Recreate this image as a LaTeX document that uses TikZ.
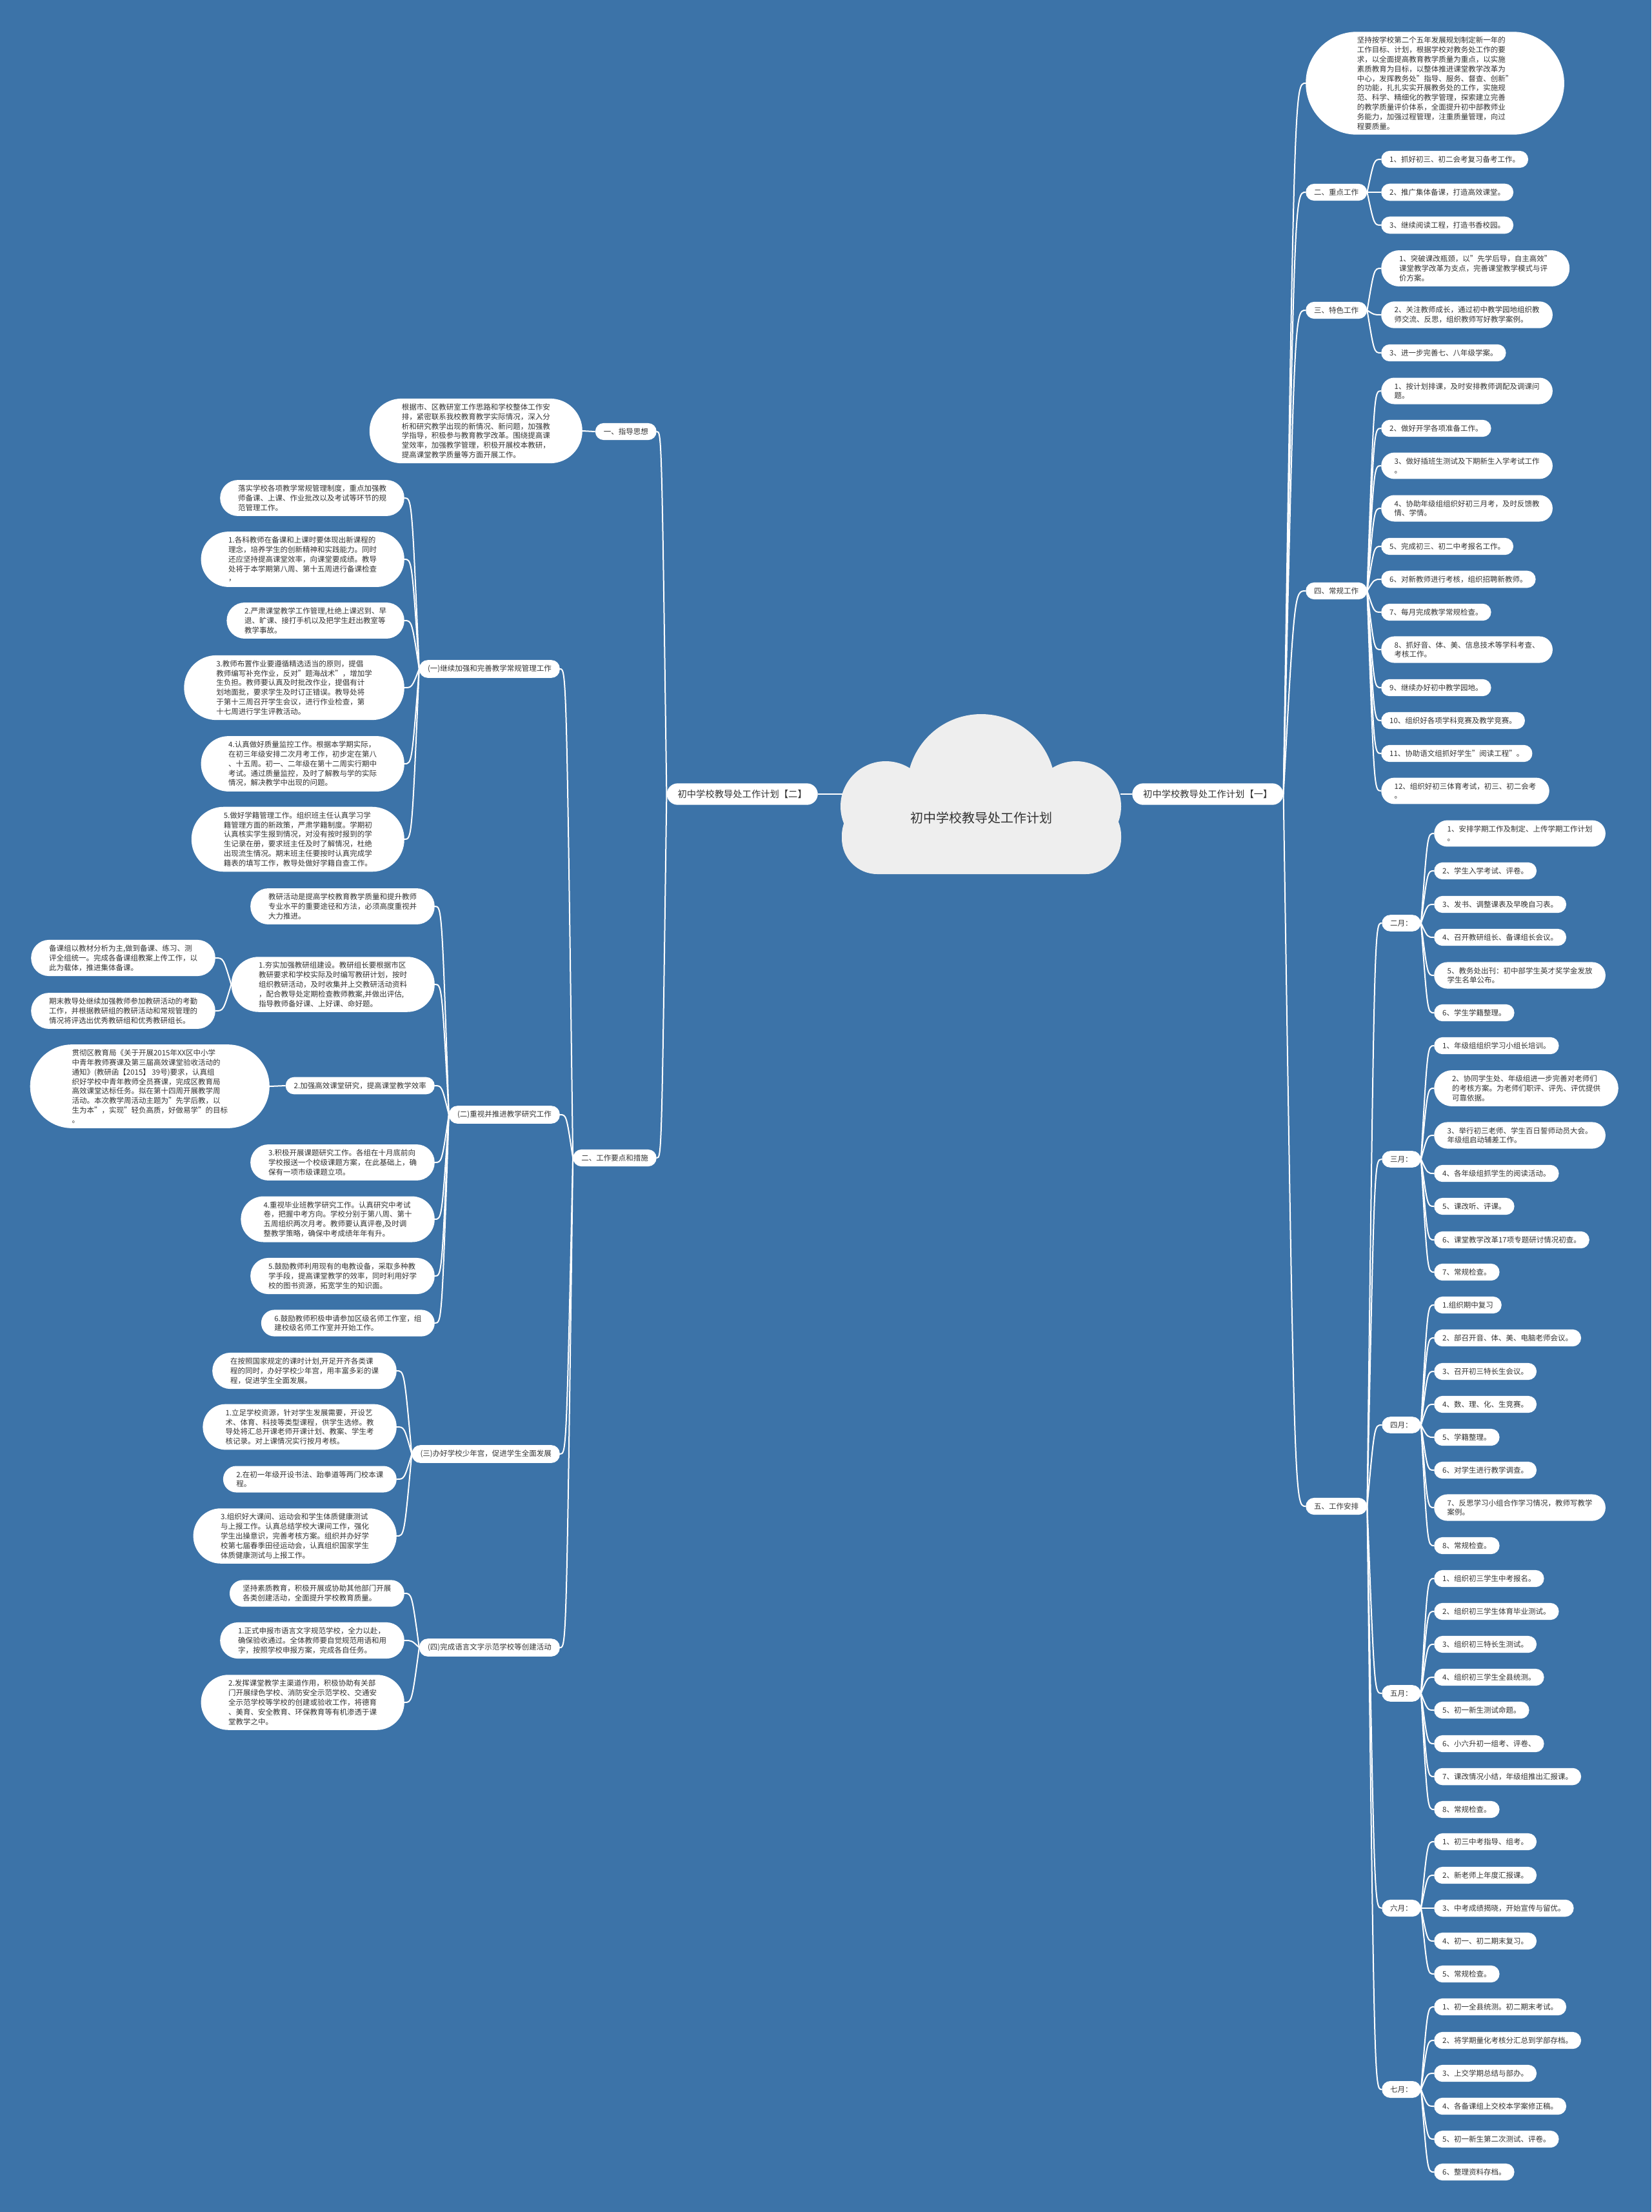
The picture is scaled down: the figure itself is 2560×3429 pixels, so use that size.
\documentclass[tikz,border=0pt]{standalone}
\usepackage{fontspec}
\setmainfont{Noto Sans CJK SC}
\usetikzlibrary{
    calc
}
\definecolor{mapblue}{HTML}{3C73A8}
\definecolor{cloudgray}{HTML}{EEEEEE}
\definecolor{inkgray}{HTML}{333333}
\tikzset{
    % --- Central topic text (inside the cloud) ---
    root/.style = {
        font=\fontsize{20}{24}\selectfont,
        text=inkgray, inner sep=0pt
    },
    % --- Plan title (first level) ---
    plan/.style = {
        rectangle, fill=white, text=inkgray,
        font=\fontsize{14.3}{18}\selectfont,
        inner xsep=17pt, inner ysep=10pt, rounded corners=17pt
    },
    % --- Section heading / month ---
    section/.style = {
        rectangle, fill=white, text=inkgray,
        font=\fontsize{11.5}{14.8}\selectfont,
        inner xsep=13pt, inner ysep=7.8pt, rounded corners=13pt
    },
    % --- Detail item, #1 = number of lines ---
    item/.style = {
        section, align=left,
        inner xsep={13pt+7.4pt*(#1-1)},
        rounded corners={13pt+7.4pt*(#1-1)}
    },
    item/.default = 1,
    % --- Curved white connector ---
    link/.style = {
        draw=white, line width=2pt,
        to path={.. controls ($(\tikztotarget)!0.5!(\tikztotarget -| \tikztostart)$) .. (\tikztotarget)}
    }
}

\begin{document}
\begin{tikzpicture}[x=1pt, y=-1pt]

\fill[mapblue] (0,0) rectangle (2560,3429);
\useasboundingbox (0,0) rectangle (2560,3429);

% ---------------------------------------------------------
% Central cloud
% ---------------------------------------------------------
\fill[cloudgray, rounded corners=55pt] (1305,1240) rectangle (1738,1355);
\fill[cloudgray] (1521,1222) circle[radius=115pt];
\fill[cloudgray] (1373,1250) circle[radius=70pt];
\fill[cloudgray] (1668,1250) circle[radius=70pt];
\node[root] (Root) at (1521,1268) {初中学校教导处工作计划};
\coordinate (RootE) at (1737,1231);
\coordinate (RootW) at (1306,1231);

% ---------------------------------------------------------
% Plan titles
% ---------------------------------------------------------
\node[plan, anchor=west] (PlanA) at (1755,1231) {初中学校教导处工作计划【一】};
\node[plan, anchor=east] (PlanB) at (1268,1231) {初中学校教导处工作计划【二】};
\draw[link] (RootE) to (PlanA.west);
\draw[link] (RootW) to (PlanB.east);

% ---------------------------------------------------------
% Plan one: sections (right)
% ---------------------------------------------------------
\node[item=10, anchor=west] (Intro) at (2024,129) {%
    坚持按学校第二个五年发展规划制定新一年的\\
    工作目标、计划，根据学校对教务处工作的要\\
    求，以全面提高教育教学质量为重点，以实施\\
    素质教育为目标，以整体推进课堂教学改革为\\
    中心，发挥教务处"指导、服务、督查、创新"\\
    的功能，扎扎实实开展教务处的工作，实施规\\
    范、科学、精细化的教学管理，探索建立完善\\
    的教学质量评价体系，全面提升初中部教师业\\
    务能力，加强过程管理，注重质量管理，向过\\
    程要质量。};
\node[section, anchor=west] (KeyWork) at (2024,298) {二、重点工作};
\node[section, anchor=west] (Feature) at (2024,481) {三、特色工作};
\node[section, anchor=west] (Routine) at (2024,916) {四、常规工作};
\node[section, anchor=west] (Sched) at (2024,2335) {五、工作安排};

\foreach \n in {Intro, KeyWork, Feature, Routine, Sched}
    \draw[link] (PlanA.east) to (\n.west);

% Key work
\node[item, anchor=west] (Key1) at (2141,247) {1、抓好初三、初二会考复习备考工作。};
\node[item, anchor=west] (Key2) at (2141,298) {2、推广集体备课，打造高效课堂。};
\node[item, anchor=west] (Key3) at (2141,349) {3、继续阅读工程，打造书香校园。};

% Featured work
\node[item=3, anchor=west] (Feat1) at (2141,416) {%
    1、突破课改瓶颈，以"先学后导，自主高效"\\
    课堂教学改革为支点，完善课堂教学模式与评\\
    价方案。};
\node[item=2, anchor=west] (Feat2) at (2141,488) {%
    2、关注教师成长，通过初中教学园地组织教\\
    师交流、反思，组织教师写好教学案例。};
\node[item, anchor=west] (Feat3) at (2141,547) {3、进一步完善七、八年级学案。};

% Routine work
\node[item=2, anchor=west] (Rout1) at (2141,606) {1、按计划排课，及时安排教师调配及调课问\\题。};
\node[item, anchor=west] (Rout2) at (2141,664) {2、做好开学各项准备工作。};
\node[item=2, anchor=west] (Rout3) at (2141,722) {3、做好插班生测试及下期新生入学考试工作\\。};
\node[item=2, anchor=west] (Rout4) at (2141,788) {4、协助年级组组织好初三月考，及时反馈教\\情、学情。};
\node[item, anchor=west] (Rout5) at (2141,847) {5、完成初三、初二中考报名工作。};
\node[item, anchor=west] (Rout6) at (2141,898) {6、对新教师进行考核，组织招聘新教师。};
\node[item, anchor=west] (Rout7) at (2141,949) {7、每月完成教学常规检查。};
\node[item=2, anchor=west] (Rout8) at (2141,1007) {8、抓好音、体、美、信息技术等学科考查、\\考核工作。};
\node[item, anchor=west] (Rout9) at (2141,1066) {9、继续办好初中教学园地。};
\node[item, anchor=west] (Rout10) at (2141,1117) {10、组织好各项学科竞赛及教学竞赛。};
\node[item, anchor=west] (Rout11) at (2141,1168) {11、协助语文组抓好学生"阅读工程"。};
\node[item=2, anchor=west] (Rout12) at (2141,1226) {12、组织好初三体育考试，初三、初二会考\\。};

\foreach \i in {1,2,3} {
    \draw[link] (KeyWork.east) to (Key\i.west);
    \draw[link] (Feature.east) to (Feat\i.west);
}
\foreach \i in {1,...,12}
    \draw[link] (Routine.east) to (Rout\i.west);

% ---------------------------------------------------------
% Plan one: monthly schedule
% ---------------------------------------------------------
\node[section, anchor=west] (Feb) at (2142,1431) {二月：};
\node[section, anchor=west] (Mar) at (2142,1797) {三月：};
\node[section, anchor=west] (Apr) at (2142,2209) {四月：};
\node[section, anchor=west] (May) at (2142,2625) {五月：};
\node[section, anchor=west] (Jun) at (2142,2958) {六月：};
\node[section, anchor=west] (Jul) at (2142,3239) {七月：};
\foreach \m in {Feb, Mar, Apr, May, Jun, Jul}
    \draw[link] (Sched.east) to (\m.west);

% February
\node[item=2, anchor=west] (Feb1) at (2223,1292) {1、安排学期工作及制定、上传学期工作计划\\。};
\node[item, anchor=west] (Feb2) at (2223,1350) {2、学生入学考试、评卷。};
\node[item, anchor=west] (Feb3) at (2223,1402) {3、发书、调整课表及早晚自习表。};
\node[item, anchor=west] (Feb4) at (2223,1453) {4、召开教研组长、备课组长会议。};
\node[item=2, anchor=west] (Feb5) at (2223,1512) {5、教务处出刊：初中部学生英才奖学金发放\\学生名单公布。};
\node[item, anchor=west] (Feb6) at (2223,1570) {6、学生学籍整理。};

% March
\node[item, anchor=west] (Mar1) at (2223,1621) {1、年级组组织学习小组长培训。};
\node[item=3, anchor=west] (Mar2) at (2223,1687) {%
    2、协同学生处、年级组进一步完善对老师们\\
    的考核方案。为老师们职评、评先、评优提供\\
    可靠依据。};
\node[item=2, anchor=west] (Mar3) at (2223,1760) {3、举行初三老师、学生百日誓师动员大会。\\年级组启动辅差工作。};
\node[item, anchor=west] (Mar4) at (2223,1819) {4、各年级组抓学生的阅读活动。};
\node[item, anchor=west] (Mar5) at (2223,1870) {5、课改听、评课。};
\node[item, anchor=west] (Mar6) at (2223,1922) {6、课堂教学改革17项专题研讨情况初查。};
\node[item, anchor=west] (Mar7) at (2223,1972) {7、常规检查。};

% April
\node[item, anchor=west] (Apr1) at (2223,2023) {1.组织期中复习};
\node[item, anchor=west] (Apr2) at (2223,2074) {2、部召开音、体、美、电脑老师会议。};
\node[item, anchor=west] (Apr3) at (2223,2126) {3、召开初三特长生会议。};
\node[item, anchor=west] (Apr4) at (2223,2177) {4、数、理、化、生竞赛。};
\node[item, anchor=west] (Apr5) at (2223,2228) {5、学籍整理。};
\node[item, anchor=west] (Apr6) at (2223,2279) {6、对学生进行教学调查。};
\node[item=2, anchor=west] (Apr7) at (2223,2337) {7、反思学习小组合作学习情况，教师写教学\\案例。};
\node[item, anchor=west] (Apr8) at (2223,2396) {8、常规检查。};

% May
\node[item, anchor=west] (May1) at (2223,2447) {1、组织初三学生中考报名。};
\node[item, anchor=west] (May2) at (2223,2498) {2、组织初三学生体育毕业测试。};
\node[item, anchor=west] (May3) at (2223,2549) {3、组织初三特长生测试。};
\node[item, anchor=west] (May4) at (2223,2600) {4、组织初三学生全县统测。};
\node[item, anchor=west] (May5) at (2223,2651) {5、初一新生测试命题。};
\node[item, anchor=west] (May6) at (2223,2703) {6、小六升初一组考、评卷、};
\node[item, anchor=west] (May7) at (2223,2754) {7、课改情况小结，年级组推出汇报课。};
\node[item, anchor=west] (May8) at (2223,2805) {8、常规检查。};

% June
\node[item, anchor=west] (Jun1) at (2223,2855) {1、初三中考指导、组考。};
\node[item, anchor=west] (Jun2) at (2223,2907) {2、新老师上年度汇报课。};
\node[item, anchor=west] (Jun3) at (2223,2958) {3、中考成绩揭晓，开始宣传与留优。};
\node[item, anchor=west] (Jun4) at (2223,3009) {4、初一、初二期末复习。};
\node[item, anchor=west] (Jun5) at (2223,3060) {5、常规检查。};

% July
\node[item, anchor=west] (Jul1) at (2223,3111) {1、初一全县统测。初二期末考试。};
\node[item, anchor=west] (Jul2) at (2223,3163) {2、将学期量化考核分汇总到学部存档。};
\node[item, anchor=west] (Jul3) at (2223,3214) {3、上交学期总结与部办。};
\node[item, anchor=west] (Jul4) at (2223,3265) {4、各备课组上交校本学案修正稿。};
\node[item, anchor=west] (Jul5) at (2223,3316) {5、初一新生第二次测试、评卷。};
\node[item, anchor=west] (Jul6) at (2223,3367) {6、整理资料存档。};

\foreach \i in {1,...,6}
    \draw[link] (Feb.east) to (Feb\i.west);
\foreach \i in {1,...,7}
    \draw[link] (Mar.east) to (Mar\i.west);
\foreach \i in {1,...,8} {
    \draw[link] (Apr.east) to (Apr\i.west);
    \draw[link] (May.east) to (May\i.west);
}
\foreach \i in {1,...,5}
    \draw[link] (Jun.east) to (Jun\i.west);
\foreach \i in {1,...,6}
    \draw[link] (Jul.east) to (Jul\i.west);

% ---------------------------------------------------------
% Plan two: guiding idea (left)
% ---------------------------------------------------------
\node[section, anchor=east] (Guide) at (1018,669) {一、指导思想};
\node[item=6, anchor=east] (GuideTxt) at (903,668) {%
    根据市、区教研室工作思路和学校整体工作安\\
    排，紧密联系我校教育教学实际情况，深入分\\
    析和研究教学出现的新情况、新问题，加强教\\
    学指导，积极参与教育教学改革。围绕提高课\\
    堂效率，加强教学管理，积极开展校本教研，\\
    提高课堂教学质量等方面开展工作。};
\node[section, anchor=east] (Measures) at (1018,1795) {二、工作要点和措施};
\draw[link] (PlanB.west) to (Guide.east);
\draw[link] (PlanB.west) to (Measures.east);
\draw[link] (Guide.west) to (GuideTxt.east);

% ---------------------------------------------------------
% Plan two: measures
% ---------------------------------------------------------
\node[section, anchor=east] (SecA) at (868,1037) {(一)继续加强和完善教学常规管理工作};
\node[section, anchor=east] (SecB) at (868,1728) {(二)重视并推进教学研究工作};
\node[section, anchor=east] (SecC) at (868,2254) {(三)办好学校少年宫，促进学生全面发展};
\node[section, anchor=east] (SecD) at (868,2554) {(四)完成语言文字示范学校等创建活动};
\foreach \s in {SecA, SecB, SecC, SecD}
    \draw[link] (Measures.west) to (\s.east);

% (一) routine management
\node[item=3, anchor=east] (SecA0) at (627,772) {%
    落实学校各项教学常规管理制度，重点加强教\\
    师备课、上课、作业批改以及考试等环节的规\\
    范管理工作。};
\node[item=5, anchor=east] (SecA1) at (627,867) {%
    1.各科教师在备课和上课时要体现出新课程的\\
    理念，培养学生的创新精神和实践能力。同时\\
    还应坚持提高课堂效率，向课堂要成绩。教导\\
    处将于本学期第八周、第十五周进行备课检查\\
    ，};
\node[item=3, anchor=east] (SecA2) at (627,962) {%
    2.严肃课堂教学工作管理,杜绝上课迟到、早\\
    退、旷课、接打手机以及把学生赶出教室等\\
    教学事故。};
\node[item=6, anchor=east] (SecA3) at (627,1066) {%
    3.教师布置作业要遵循精选适当的原则，提倡\\
    教师编写补充作业，反对"题海战术"，增加学\\
    生负担。教师要认真及时批改作业，提倡有计\\
    划地面批，要求学生及时订正错误。教导处将\\
    于第十三周召开学生会议，进行作业检查，第\\
    十七周进行学生评教活动。};
\node[item=5, anchor=east] (SecA4) at (627,1184) {%
    4.认真做好质量监控工作。根据本学期实际，\\
    在初三年级安排二次月考工作，初步定在第八\\
    、十五周。初一、二年级在第十二周实行期中\\
    考试。通过质量监控，及时了解教与学的实际\\
    情况，解决教学中出现的问题。};
\node[item=6, anchor=east] (SecA5) at (627,1301) {%
    5.做好学籍管理工作。组织班主任认真学习学\\
    籍管理方面的新政策，严肃学籍制度。学期初\\
    认真核实学生报到情况，对没有按时报到的学\\
    生记录在册，要求班主任及时了解情况，杜绝\\
    出现流生情况。期末班主任要按时认真完成学\\
    籍表的填写工作，教导处做好学籍自查工作。};
\foreach \i in {0,...,5}
    \draw[link] (SecA.west) to (SecA\i.east);

% (二) teaching research
\node[item=3, anchor=east] (SecB0) at (674,1405) {%
    教研活动是提高学校教育教学质量和提升教师\\
    专业水平的重要途径和方法，必须高度重视并\\
    大力推进。};
\node[item=5, anchor=east] (SecB1) at (674,1526) {%
    1.夯实加强教研组建设。教研组长要根据市区\\
    教研要求和学校实际及时编写教研计划，按时\\
    组织教研活动，及时收集并上交教研活动资料\\
    ，配合教导处定期检查教师教案,并做出评估,\\
    指导教师备好课、上好课、命好题。};
\node[item=3, anchor=east] (SecB1a) at (334,1485) {%
    备课组以教材分析为主,做到备课、练习、测\\
    评全组统一。完成各备课组教案上传工作，以\\
    此为载体，推进集体备课。};
\node[item=3, anchor=east] (SecB1b) at (334,1567) {%
    期末教导处继续加强教师参加教研活动的考勤\\
    工作，并根据教研组的教研活动和常规管理的\\
    情况将评选出优秀教研组和优秀教研组长。};
\node[item, anchor=east] (SecB2) at (674,1683) {2.加强高效课堂研究，提高课堂教学效率};
\node[item=8, anchor=east] (SecB2a) at (418,1684) {%
    贯彻区教育局《关于开展2015年XX区中小学\\
    中青年教师赛课及第三届高效课堂验收活动的\\
    通知》(教研函【2015】 39号)要求，认真组\\
    织好学校中青年教师全员赛课，完成区教育局\\
    高效课堂达标任务。拟在第十四周开展教学周\\
    活动。本次教学周活动主题为"先学后教，以\\
    生为本"，实现"轻负高质，好做易学"的目标\\
    。};
\node[item=3, anchor=east] (SecB3) at (674,1802) {%
    3.积极开展课题研究工作。各组在十月底前向\\
    学校报送一个校级课题方案，在此基础上，确\\
    保有一项市级课题立项。};
\node[item=4, anchor=east] (SecB4) at (674,1890) {%
    4.重视毕业班教学研究工作。认真研究中考试\\
    卷，把握中考方向。学校分别于第八周、第十\\
    五周组织两次月考。教师要认真评卷,及时调\\
    整教学策略，确保中考成绩年年有升。};
\node[item=3, anchor=east] (SecB5) at (674,1978) {%
    5.鼓励教师利用现有的电教设备，采取多种教\\
    学手段，提高课堂教学的效率，同时利用好学\\
    校的图书资源，拓宽学生的知识面。};
\node[item=2, anchor=east] (SecB6) at (674,2051) {%
    6.鼓励教师积极申请参加区级名师工作室，组\\
    建校级名师工作室并开始工作。};
\foreach \i in {0,...,6}
    \draw[link] (SecB.west) to (SecB\i.east);
\draw[link] (SecB1.west) to (SecB1a.east);
\draw[link] (SecB1.west) to (SecB1b.east);
\draw[link] (SecB2.west) to (SecB2a.east);

% (三) youth palace
\node[item=3, anchor=east] (SecC0) at (615,2125) {%
    在按照国家规定的课时计划,开足开齐各类课\\
    程的同时，办好学校少年宫，用丰富多彩的课\\
    程，促进学生全面发展。};
\node[item=4, anchor=east] (SecC1) at (615,2212) {%
    1.立足学校资源，针对学生发展需要，开设艺\\
    术、体育、科技等类型课程，供学生选修。教\\
    导处将汇总开课老师开课计划、教案、学生考\\
    核记录。对上课情况实行按月考核。};
\node[item=2, anchor=east] (SecC2) at (615,2293) {%
    2.在初一年级开设书法、跆拳道等两门校本课\\
    程。};
\node[item=5, anchor=east] (SecC3) at (615,2381) {%
    3.组织好大课间、运动会和学生体质健康测试\\
    与上报工作。认真总结学校大课间工作，强化\\
    学生出操意识，完善考核方案。组织并办好学\\
    校第七届春季田径运动会，认真组织国家学生\\
    体质健康测试与上报工作。};
\foreach \i in {0,...,3}
    \draw[link] (SecC.west) to (SecC\i.east);

% (四) language and script model school
\node[item=2, anchor=east] (SecD0) at (627,2470) {%
    坚持素质教育，积极开展或协助其他部门开展\\
    各类创建活动，全面提升学校教育质量。};
\node[item=3, anchor=east] (SecD1) at (627,2543) {%
    1.正式申报市语言文字规范学校，全力以赴，\\
    确保验收通过。全体教师要自觉规范用语和用\\
    字，按照学校申报方案，完成各自任务。};
\node[item=5, anchor=east] (SecD2) at (627,2639) {%
    2.发挥课堂教学主渠道作用，积极协助有关部\\
    门开展绿色学校、消防安全示范学校、交通安\\
    全示范学校等学校的创建或验收工作，将德育\\
    、美育、安全教育、环保教育等有机渗透于课\\
    堂教学之中。};
\foreach \i in {0,...,2}
    \draw[link] (SecD.west) to (SecD\i.east);

\end{tikzpicture}
\end{document}
